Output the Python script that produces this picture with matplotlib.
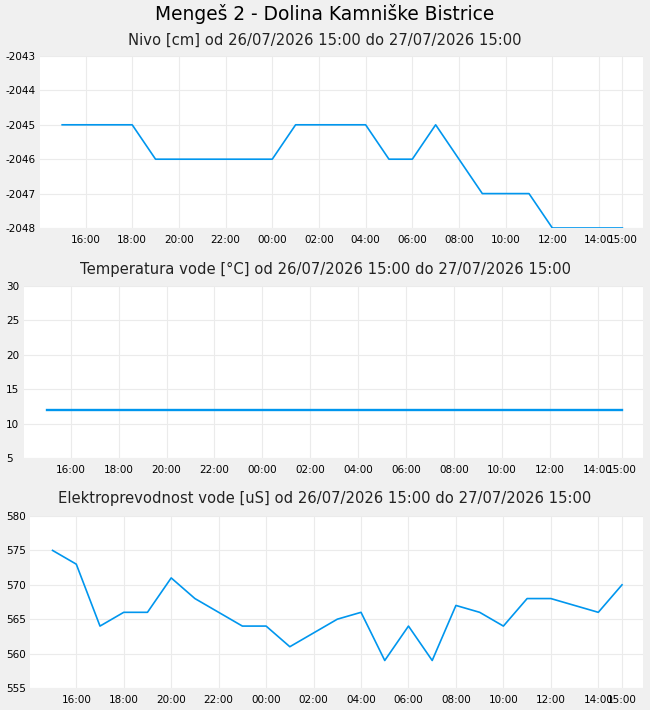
import matplotlib
matplotlib.use('Agg')
import matplotlib.pyplot as plt
import matplotlib.dates as mdates
import pandas as pd

# hourly readings 26/07/2026 15:00 .. 27/07/2026 15:00
times = pd.date_range('2026-07-26 15:00', '2026-07-27 15:00', freq='h')

nivo = [-2045, -2045, -2045, -2045, -2046, -2046, -2046, -2046, -2046, -2046,
        -2045, -2045, -2045, -2045, -2046, -2046, -2045, -2046, -2047, -2047,
        -2047, -2048, -2048, -2048, -2048]
temperatura = [12] * 25
prevodnost = [575, 573, 564, 566, 566, 571, 568, 566, 564, 564, 561, 563, 565,
              566, 559, 564, 559, 567, 566, 564, 568, 568, 567, 566, 570]

titles = ['Nivo [cm] od 26/07/2026 15:00 do 27/07/2026 15:00',
          'Temperatura vode [°C] od 26/07/2026 15:00 do 27/07/2026 15:00',
          'Elektroprevodnost vode [uS] od 26/07/2026 15:00 do 27/07/2026 15:00']
yticks = [[-2048, -2047, -2046, -2045, -2044, -2043],
          [5, 10, 15, 20, 25, 30],
          [555, 560, 565, 570, 575, 580]]
series = [nivo, temperatura, prevodnost]
widths = [1.2, 1.7, 1.2]

W, H = 650, 710
# axes boxes in pixels: left, top, right, bottom
boxes = [(40, 56, 643, 228), (24, 286, 643, 458), (30, 516, 643, 688)]
title_y = [40, 269, 499]

bg = '#f0f0f0'
line_col = '#0096ee'
grid_col = '#ebebeb'

fig = plt.figure(figsize=(6.5, 7.1), dpi=100, facecolor=bg)
fig.text(0.5, 1 - 14 / H, 'Mengeš 2 - Dolina Kamniške Bistrice', ha='center', va='center',
         fontsize=13.4)

xticks = list(pd.date_range('2026-07-26 16:00', '2026-07-27 14:00', freq='2h')) + [times[-1]]
pad = pd.Timedelta(minutes=57)

for i in range(3):
    l, t, r, b = boxes[i]
    ax = fig.add_axes([l / W, 1 - b / H, (r - l) / W, (b - t) / H])
    ax.set_facecolor('white')
    ax.plot(times, series[i], color=line_col, lw=widths[i])
    ax.set_xlim(times[0] - pad, times[-1] + pad * 0.93)
    ax.set_ylim(yticks[i][0], yticks[i][-1])
    ax.set_yticks(yticks[i])
    ax.set_yticklabels([str(v) for v in yticks[i]])
    ax.set_xticks(xticks)
    ax.xaxis.set_major_formatter(mdates.DateFormatter('%H:%M'))
    ax.tick_params(length=0, labelsize=7.5)
    ax.tick_params(axis='x', pad=5)
    ax.tick_params(axis='y', pad=(l - 6) * 0.72)
    for lab in ax.get_yticklabels():
        lab.set_ha('left')
    ax.grid(True, color=grid_col, lw=0.8)
    ax.set_axisbelow(True)
    for s in ax.spines.values():
        s.set_visible(False)
    fig.text(0.5, 1 - title_y[i] / H, titles[i], ha='center', va='center', fontsize=10.6,
             color='#222222')

fig.savefig('out.png', dpi=100, facecolor=bg)
